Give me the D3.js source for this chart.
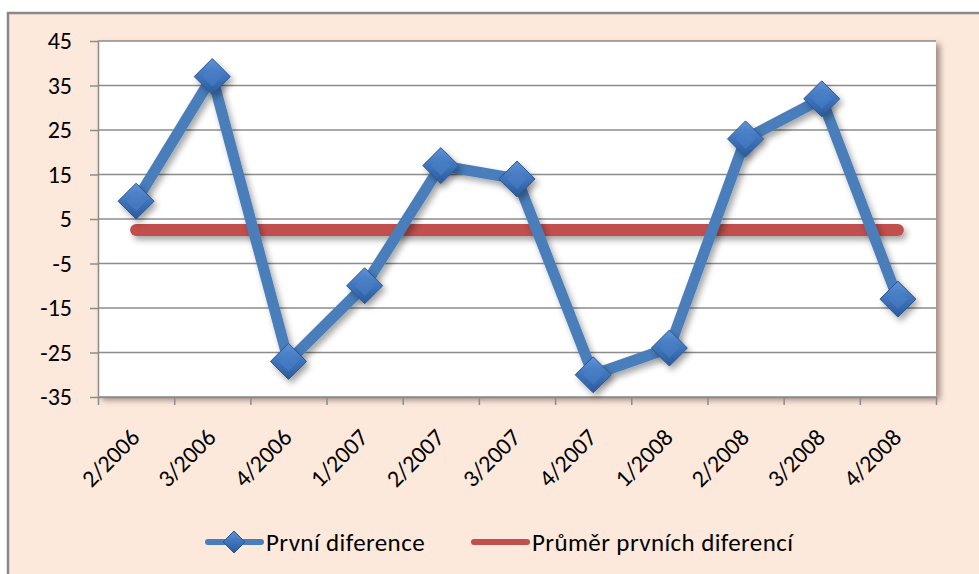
<!DOCTYPE html>
<html>
<head>
<meta charset="utf-8">
<script src="https://cdn.jsdelivr.net/npm/d3@7"></script>
<style>
  body { margin: 0; background: #fff; }
  svg text { font-family: Carlito, Lato, "Open Sans", sans-serif; fill: #000; }
</style>
</head>
<body>
<div id="container"></div>
<script>
// chart size
const w = 979
const h = 574

// data
const categories = ['2/2006', '3/2006', '4/2006', '1/2007', '2/2007', '3/2007',
                    '4/2007', '1/2008', '2/2008', '3/2008', '4/2008']
const differences = [9, 37, -27, -10, 17, 14, -30, -24, 23, 32, -13]
const meanValues = categories.map(() => d3.mean(differences))
const yTicks = [-35, -25, -15, -5, 5, 15, 25, 35, 45]
const seriesNames = ['První diference', 'Průměr prvních diferencí']

// plot area
const plot = { left: 98, top: 41, right: 936, bottom: 397 }

const svg = d3.select('#container')
    .append('svg')
    .attr('width', w)
    .attr('height', h)

const defs = svg.append('defs')

// shadows (user space so flat lines keep theirs)
const sh = defs.append('filter').attr('id', 'shadow')
    .attr('filterUnits', 'userSpaceOnUse')
    .attr('x', 0).attr('y', 0).attr('width', w).attr('height', h)
sh.append('feDropShadow')
    .attr('dx', 3).attr('dy', 4).attr('stdDeviation', 3)
    .attr('flood-color', '#000').attr('flood-opacity', 0.35)

const shPlot = defs.append('filter').attr('id', 'plotShadow')
    .attr('filterUnits', 'userSpaceOnUse')
    .attr('x', 0).attr('y', 0).attr('width', w).attr('height', h)
shPlot.append('feDropShadow')
    .attr('dx', 4).attr('dy', 3).attr('stdDeviation', 3)
    .attr('flood-color', '#5a4a40').attr('flood-opacity', 0.6)

// marker gradient
const grad = defs.append('linearGradient').attr('id', 'markerGrad')
    .attr('x1', 0).attr('y1', 0).attr('x2', 0).attr('y2', 1)
grad.append('stop').attr('offset', '0%').attr('stop-color', '#5f93d6')
grad.append('stop').attr('offset', '50%').attr('stop-color', '#3f74bd')
grad.append('stop').attr('offset', '100%').attr('stop-color', '#2a5a9c')

// outer frame
svg.append('rect')
    .attr('x', 8).attr('y', 13)
    .attr('width', w + 10).attr('height', h + 10)
    .attr('fill', '#fde9db')
    .attr('stroke', '#8a8a8a')
    .attr('stroke-width', 2.5)

// plot background
svg.append('rect')
    .attr('x', plot.left).attr('y', plot.top)
    .attr('width', plot.right - plot.left).attr('height', plot.bottom - plot.top)
    .attr('fill', '#fff')
    .attr('filter', 'url(#plotShadow)')

// scales
const x = d3.scaleBand()
    .domain(categories)
    .range([plot.left, plot.right])
    .padding(0)
const cx = d => x(d) + x.bandwidth() / 2

const y = d3.scaleLinear()
    .domain([-35, 45])
    .range([plot.bottom, plot.top])

// grid lines
svg.append('g')
    .selectAll('line')
    .data(yTicks)
    .enter()
    .append('line')
    .attr('x1', plot.left).attr('x2', plot.right)
    .attr('y1', d => y(d)).attr('y2', d => y(d))
    .attr('stroke', '#8c8c8c')
    .attr('stroke-width', 1.5)

// y axis
const yAxis = svg.append('g')
    .attr('transform', 'translate(' + plot.left + ',0)')
    .call(d3.axisLeft(y).tickValues(yTicks).tickSize(8).tickPadding(18)
        .tickSizeOuter(0).tickFormat(d => String(d)))
yAxis.select('.domain').attr('stroke', '#8c8c8c').attr('stroke-width', 1.5)
yAxis.selectAll('.tick line').attr('stroke', '#8c8c8c').attr('stroke-width', 1.5)
yAxis.selectAll('.tick text')
    .style('font-size', '24px')
    .attr('fill', '#000')

// x axis: ticks on category boundaries
const xb = d3.scaleLinear().domain([0, categories.length]).range([plot.left, plot.right])
const xAxis = svg.append('g')
    .attr('transform', 'translate(0,' + plot.bottom + ')')
    .call(d3.axisBottom(xb).tickValues(d3.range(0, categories.length + 1))
        .tickSize(8).tickSizeOuter(0).tickFormat(''))
xAxis.select('.domain').attr('stroke', '#8c8c8c').attr('stroke-width', 1.5)
xAxis.selectAll('.tick line').attr('stroke', '#8c8c8c').attr('stroke-width', 1.5)

// category labels
svg.append('g')
    .selectAll('text')
    .data(categories)
    .enter()
    .append('text')
    .attr('transform', d => 'translate(' + (cx(d) + 5) + ',' + (plot.bottom + 42) + ') rotate(-45)')
    .attr('text-anchor', 'end')
    .style('font-size', '24px')
    .text(d => d)

// mean line
const line = d3.line()
    .x((d, i) => cx(categories[i]))
    .y(d => y(d))

svg.append('path')
    .datum(meanValues)
    .attr('d', line)
    .attr('fill', 'none')
    .attr('stroke', '#c0504d')
    .attr('stroke-width', 12)
    .attr('stroke-linecap', 'round')
    .attr('filter', 'url(#shadow)')

// differences line
svg.append('path')
    .datum(differences)
    .attr('d', line)
    .attr('fill', 'none')
    .attr('stroke', '#4a7ebb')
    .attr('stroke-width', 11)
    .attr('stroke-linejoin', 'round')
    .attr('filter', 'url(#shadow)')

// diamond markers
const diamond = r => 'M0,' + (-r) + 'L' + r + ',0L0,' + r + 'L' + (-r) + ',0Z'

const markers = svg.append('g')
    .attr('filter', 'url(#shadow)')
    .selectAll('g')
    .data(differences)
    .enter()
    .append('g')
    .attr('transform', (d, i) => 'translate(' + cx(categories[i]) + ',' + y(d) + ')')

markers.append('path')
    .attr('d', diamond(18))
    .attr('fill', 'url(#markerGrad)')
    .attr('stroke', '#2b5690')
    .attr('stroke-width', 1)
markers.append('path')
    .attr('d', diamond(10))
    .attr('fill', '#4a80c6')
    .attr('opacity', 0.6)

// legend
const legend = svg.append('g')
const ly = 542

legend.append('line')
    .attr('x1', 208).attr('x2', 261)
    .attr('y1', ly).attr('y2', ly)
    .attr('stroke', '#4a7ebb').attr('stroke-width', 6)
    .attr('stroke-linecap', 'round')
legend.append('path')
    .attr('d', 'M234,' + (ly - 11) + 'L245,' + ly + 'L234,' + (ly + 11) + 'L223,' + ly + 'Z')
    .attr('fill', 'url(#markerGrad)')
    .attr('stroke', '#2b5690')
legend.append('text')
    .attr('x', 266).attr('y', ly + 9)
    .style('font-size', '25px')
    .style('letter-spacing', '0.4px')
    .text(seriesNames[0])

legend.append('line')
    .attr('x1', 474).attr('x2', 527)
    .attr('y1', ly).attr('y2', ly)
    .attr('stroke', '#c0504d').attr('stroke-width', 6)
    .attr('stroke-linecap', 'round')
legend.append('text')
    .attr('x', 532).attr('y', ly + 9)
    .style('font-size', '25px')
    .style('letter-spacing', '0.4px')
    .text(seriesNames[1])
</script>
</body>
</html>
